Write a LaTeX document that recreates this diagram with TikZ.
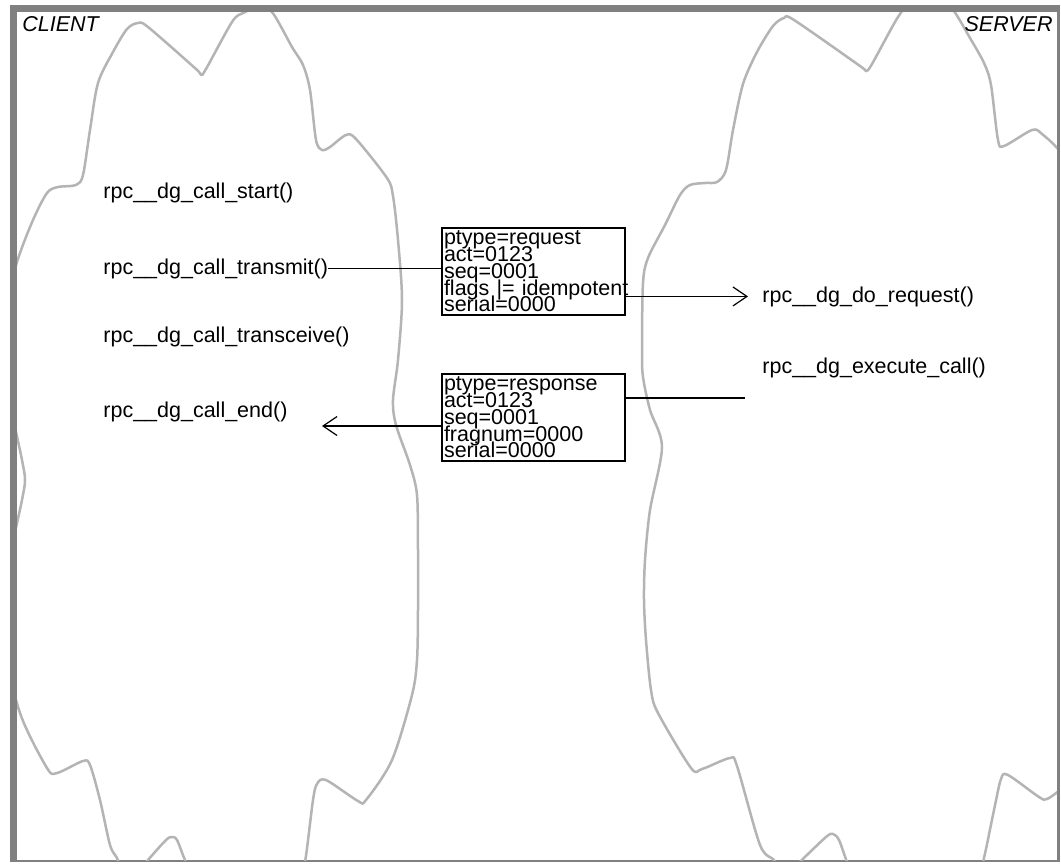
\documentclass[tikz,border=0pt]{standalone}
\usepackage{fontspec}
\setmainfont{Liberation Sans}
\usetikzlibrary{arrows.meta,positioning}
\definecolor{framegray}{HTML}{808080}
\definecolor{cloudgray}{HTML}{B4B4B4}
\newcommand\packetfont{\fontsize{10.75}{8.4}\selectfont\lineskiplimit-20pt\lineskip0pt\relax}

\begin{document}
\begin{tikzpicture}[
  x=0.5pt, y=-0.5pt,
  font=\fontsize{10.75}{12}\selectfont,
  >={Straight Barb[length=7pt,width=9.5pt]},
  call/.style={
    inner sep=0pt,
    anchor=base west
  },
  sidelabel/.style={
    inner sep=0pt,
    font=\fontsize{10.75}{12}\selectfont\itshape
  },
  packet/.style={
    draw,
    line width=0.6pt,
    inner xsep=1pt,
    inner ysep=0pt,
    text width=89.5pt,
    minimum height=43.5pt,
    align=left,
    font=\packetfont
  },
  cloudline/.style={
    draw=cloudgray,
    line width=1.25pt,
    line join=round
  },
  msgline/.style={
    line width=0.6pt
  },
  msgarrow/.style={
    ->,
    line width=0.6pt
  }
]

  \useasboundingbox (0,0) rectangle (1061,863);

  % Frame
  \fill[framegray] (10,5) rectangle (1060,862);
  \fill[white] (17,12) rectangle (1057,860);

  % --- Client and server address spaces ---
  \begin{scope}
    \clip (17,12) rectangle (1057,860);
    \draw[cloudline] plot[smooth cycle, tension=0.5] coordinates {
      (2,320) (17,262) (33,220) (47,193) (58,187) (76,185) (83,175) (90,130)
      (98,83) (113,52) (127,29) (138,23) (148,27) (196,69) (201,75) (206,69)
      (232,22) (243,13) (258,8) (272,12) (292,47) (303,65) (310,90) (316,140)
      (322,150) (330,147) (346,135) (356,139) (387,178) (393,196) (398,240)
      (402,300) (398,360) (393,400) (396,425) (410,465) (417,495) (418,550)
      (418,610) (417,660) (412,695) (392,760) (366,800) (358,801) (326,780)
      (317,784) (313,800) (305,862) (298,880) (195,880) (185,860) (177,840)
      (172,837) (166,840) (148,860) (133,878) (122,870) (117,858) (110,845)
      (100,800) (90,765) (83,761) (57,773) (47,768) (20,713) (4,640) (10,560)
      (22,500) (25,480) (22,460) (10,400)
    };
    \draw[cloudline] plot[smooth cycle, tension=0.5] coordinates {
      (643,283) (648,258) (665,225) (680,195) (690,185) (705,183) (717,182)
      (726,170) (733,130) (743,84) (757,52) (773,26) (784,18) (794,20)
      (860,66) (866,71) (872,64) (898,17) (910,6) (940,4) (953,10) (970,38)
      (984,63) (991,85) (998,140) (1004,146) (1032,130) (1042,134) (1062,154)
      (1090,200) (1095,500) (1090,760) (1062,788) (1047,799) (1039,797)
      (1008,775) (1001,779) (994,810) (983,862) (975,880) (855,880) (847,862)
      (839,840) (833,834) (826,837) (800,862) (790,875) (780,872) (774,860)
      (760,845) (737,766) (730,758) (702,769) (691,768) (658,713) (651,690)
      (646,640) (644,600) (645,560) (650,510) (662,447) (650,410) (643,377)
      (642,350)
    };
  \end{scope}

  \node[sidelabel, anchor=base west] (client) at (22,31) {CLIENT};
  \node[sidelabel, anchor=base east] (server) at (1053,31) {SERVER};

  % --- Client calls ---
  \node[call] (start) at (103,198) {rpc\_\_dg\_call\_start()};
  \node[call, below=38pt of start.base west, anchor=base west] (transmit) {rpc\_\_dg\_call\_transmit()};
  \node[call, below=34pt of transmit.base west, anchor=base west] (transceive) {rpc\_\_dg\_call\_transceive()};
  \node[call, below=37.5pt of transceive.base west, anchor=base west] (callend) {rpc\_\_dg\_call\_end()};

  % --- Server calls ---
  \node[call] (doreq) at (762,302) {rpc\_\_dg\_do\_request()};
  \node[call, below=35.5pt of doreq.base west, anchor=base west] (execcall) {rpc\_\_dg\_execute\_call()};

  % --- Packets ---
  \node[packet] (req) at (533.5,271.5) {
    ptype=request\\
    act=0123\\
    seq=0001\\
    \mbox{flags |= idempotent}\\
    serial=0000
  };
  \node[packet] (resp) at (533.5,417.5) {
    ptype=response\\
    act=0123\\
    seq=0001\\
    fragnum=0000\\
    serial=0000
  };

  \coordinate (execout) at (745,398);
  \coordinate (endin) at (322,426);

  % Connecting lines
  \draw[msgline] (transmit.east) -- (transmit.east -| req.west);
  \draw[msgarrow] (req.east |- doreq.west) -- ([xshift=-7pt]doreq.west);
  \draw[msgline] (execout) -- (execout -| resp.east);
  \draw[msgarrow] (endin -| resp.west) -- (endin);

\end{tikzpicture}
\end{document}
